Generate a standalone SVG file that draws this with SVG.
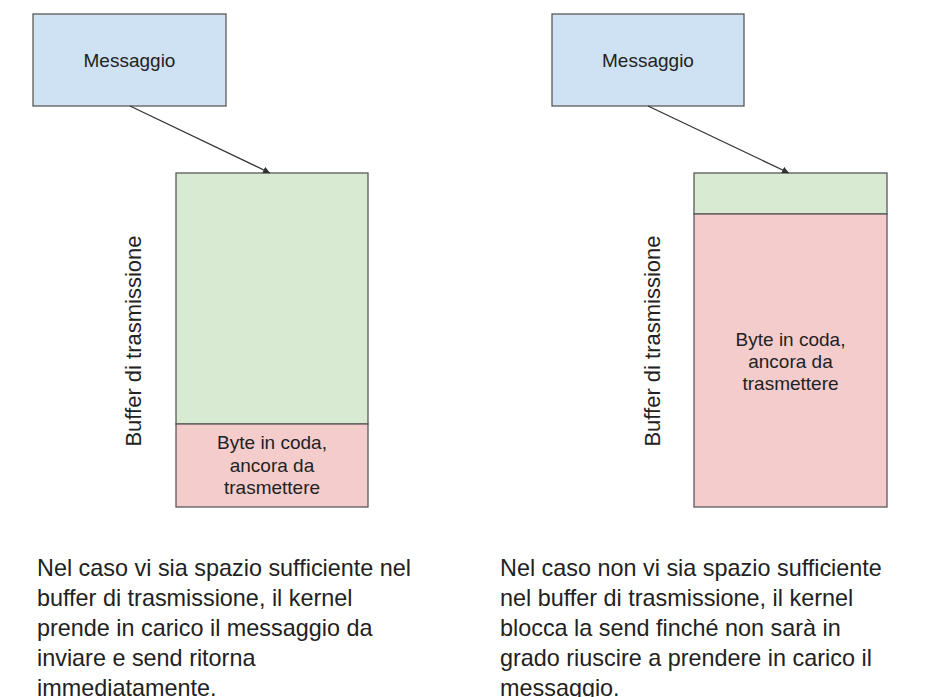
<svg xmlns="http://www.w3.org/2000/svg" width="930" height="697" viewBox="0 0 930 697">
<defs>
<style>
.box{stroke:#595959;stroke-width:1.3}
.msg{fill:#cfe2f3}
.free{fill:#d9ead3}
.used{fill:#f4cccc}
text{font-family:"Liberation Sans",Arial,sans-serif;fill:#222}
.lbl{font-size:19px;text-anchor:middle}
.vlbl{font-size:22px;text-anchor:middle}
.desc{font-size:23.4px}
.conn{stroke:#333;stroke-width:1.3;fill:none}
</style>
<marker id="ah" viewBox="0 0 10 10" refX="10" refY="5" markerWidth="7" markerHeight="7" markerUnits="userSpaceOnUse" orient="auto">
<path d="M0,0 L10,5 L0,10 z" fill="#333"/>
</marker>
</defs>
<rect width="930" height="697" fill="#fff"/>
<g id="msg-left">
<rect class="box msg" x="33" y="14" width="193" height="92"/>
<text class="lbl" x="129.5" y="67">Messaggio</text>
</g>
<g id="buffer-left">
<rect class="box free" x="176" y="173" width="192" height="251"/>
<rect class="box used" x="176" y="424" width="192" height="83"/>
<text class="lbl" x="272" y="449">Byte in coda,</text>
<text class="lbl" x="272" y="472">ancora da</text>
<text class="lbl" x="272" y="494">trasmettere</text>
<text class="vlbl" transform="translate(141,341) rotate(-90)">Buffer di trasmissione</text>
</g>
<g id="msg-right">
<rect class="box msg" x="552" y="14" width="192" height="92"/>
<text class="lbl" x="648" y="67">Messaggio</text>
</g>
<g id="buffer-right">
<rect class="box free" x="694" y="173" width="193" height="41"/>
<rect class="box used" x="694" y="214" width="193" height="293"/>
<text class="lbl" x="790.5" y="346">Byte in coda,</text>
<text class="lbl" x="790.5" y="368">ancora da</text>
<text class="lbl" x="790.5" y="390">trasmettere</text>
<text class="vlbl" transform="translate(660,341) rotate(-90)">Buffer di trasmissione</text>
</g>
<g id="desc-left">
<text class="desc" x="37" y="576">Nel caso vi sia spazio sufficiente nel</text>
<text class="desc" x="37" y="606">buffer di trasmissione, il kernel</text>
<text class="desc" x="37" y="636">prende in carico il messaggio da</text>
<text class="desc" x="37" y="666">inviare e send ritorna</text>
<text class="desc" x="37" y="696">immediatamente.</text>
</g>
<g id="desc-right">
<text class="desc" x="500" y="576">Nel caso non vi sia spazio sufficiente</text>
<text class="desc" x="500" y="606">nel buffer di trasmissione, il kernel</text>
<text class="desc" x="500" y="636">blocca la send finché non sarà in</text>
<text class="desc" x="500" y="666">grado riuscire a prendere in carico il</text>
<text class="desc" x="500" y="696">messaggio.</text>
</g>
<g id="connectors">
<line class="conn" x1="130" y1="106" x2="270" y2="173" marker-end="url(#ah)"/>
<line class="conn" x1="648" y1="106" x2="789" y2="173" marker-end="url(#ah)"/>
</g>
</svg>
